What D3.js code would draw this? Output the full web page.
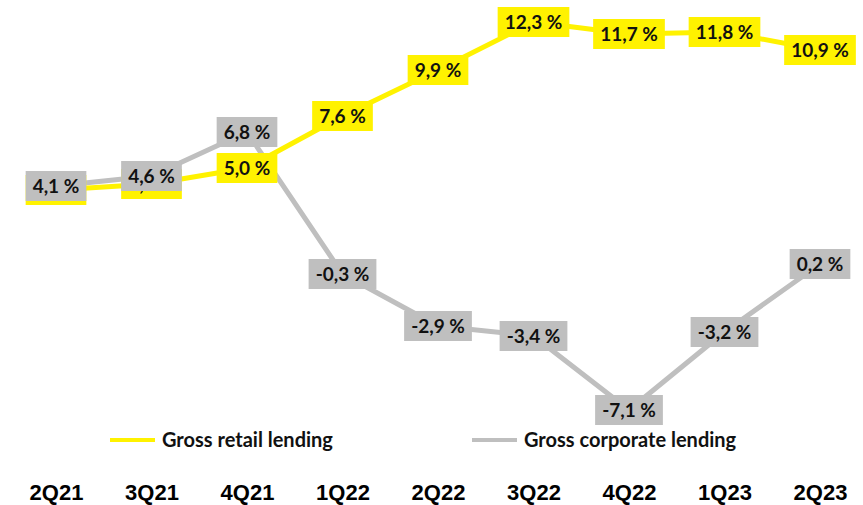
<!DOCTYPE html>
<html>
<head>
<meta charset="utf-8">
<script src="https://cdn.jsdelivr.net/npm/d3@7"></script>
<style>
  html, body { margin: 0; padding: 0; background: #fff; }
  svg { display: block; }
</style>
</head>
<body>
<svg id="chart" width="863" height="505"></svg>
<script>
// Quarterly growth of gross lending, %
const quarters = ["2Q21", "3Q21", "4Q21", "1Q22", "2Q22", "3Q22", "4Q22", "1Q23", "2Q23"];
const retailGrowth = [3.9, 4.2, 5.0, 7.6, 9.9, 12.3, 11.7, 11.8, 10.9];
const corporateGrowth = [4.1, 4.6, 6.8, -0.3, -2.9, -3.4, -7.1, -3.2, 0.2];
const seriesNames = ["Gross retail lending", "Gross corporate lending"];

const YELLOW = "#FFF200";
const GREY = "#BFBFBF";
const LABEL_FONT = "Lato, 'Open Sans', sans-serif";

const svg = d3.select("#chart");

const x = d3.scalePoint().domain(quarters).range([56, 820]);
const y = d3.scaleLinear().domain([-8, 13]).range([428, 8]);

const series = [
  { name: seriesNames[0], values: retailGrowth, color: YELLOW },
  { name: seriesNames[1], values: corporateGrowth, color: GREY }
];

// "4,1 %" style: decimal comma, plain hyphen for negatives
const fmt = v => d3.format(".1f")(v).replace(".", ",").replace("\u2212", "-") + " %";

const line = d3.line()
  .x((d, i) => x(quarters[i]))
  .y(d => y(d));

// Lines (corporate underneath, retail on top)
const lineLayer = svg.append("g");
[series[1], series[0]].forEach(s => {
  lineLayer.append("path")
    .datum(s.values)
    .attr("d", line)
    .attr("fill", "none")
    .attr("stroke", s.color)
    .attr("stroke-width", 5)
    .attr("stroke-linejoin", "round");
});

// Value labels in filled boxes: retail first, corporate on top
const labelLayer = svg.append("g");
series.forEach(s => {
  const g = labelLayer.selectAll(null)
    .data(s.values)
    .enter()
    .append("g")
    .attr("transform", (d, i) => `translate(${x(quarters[i])},${y(d)})`);
  g.append("rect").attr("fill", s.color);
  const txt = g.append("text")
    .attr("text-anchor", "middle")
    .attr("dy", "0.36em")
    .attr("font-family", LABEL_FONT)
    .attr("font-weight", "bold")
    .attr("font-size", 19)
    .attr("fill", "#111")
    .text(d => fmt(d));
  txt.each(function () {
    const w = this.getComputedTextLength();
    d3.select(this.parentNode).select("rect")
      .attr("x", -w / 2 - 7)
      .attr("y", -15)
      .attr("width", w + 14)
      .attr("height", 30);
  });
});

// Legend
const legend = svg.append("g").attr("transform", "translate(0,440)");
const legendItems = [
  { name: seriesNames[0], color: YELLOW, x0: 110 },
  { name: seriesNames[1], color: GREY, x0: 472 }
];
legendItems.forEach(it => {
  legend.append("line")
    .attr("x1", it.x0).attr("x2", it.x0 + 45)
    .attr("y1", 0).attr("y2", 0)
    .attr("stroke", it.color)
    .attr("stroke-width", 4);
  legend.append("text")
    .attr("x", it.x0 + 52)
    .attr("dy", "0.36em")
    .attr("font-family", LABEL_FONT)
    .attr("font-weight", "bold")
    .attr("font-size", 20)
    .attr("fill", "#111")
    .text(it.name);
});

// Category axis
const axis = d3.axisBottom(x).tickSize(0).tickPadding(0);
const axisG = svg.append("g")
  .attr("transform", "translate(0,484)")
  .call(axis);
axisG.select(".domain").remove();
axisG.selectAll("text")
  .attr("font-family", "'Liberation Sans', Arial, sans-serif")
  .attr("font-weight", "bold")
  .attr("font-size", 22)
  .attr("fill", "#000")
  .attr("dy", "0.71em");
</script>
</body>
</html>
